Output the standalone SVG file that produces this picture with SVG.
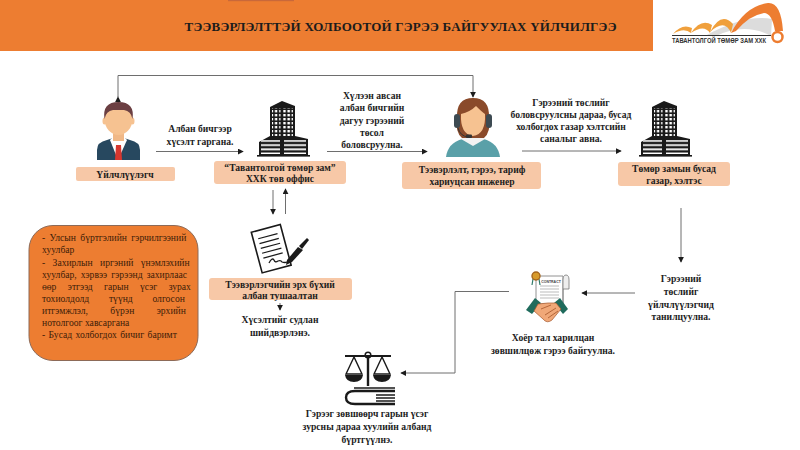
<svg xmlns="http://www.w3.org/2000/svg" width="800" height="450" viewBox="0 0 800 450">
<style>
text{font-family:"Liberation Serif","Times New Roman",serif;font-weight:700;fill:#1c1c1c;font-size:9.6px;text-anchor:middle}
.lbl{fill:#f7c8a7}
.c{fill:none;stroke:#6e6e6e;stroke-width:1}
.bt{text-anchor:start;font-weight:400;fill:#3b1c08;font-size:9.6px}
</style>
<defs>
<marker id="a" viewBox="0 0 8 8" refX="7" refY="4" markerWidth="6" markerHeight="6" markerUnits="userSpaceOnUse" orient="auto"><path d="M0 0L8 4L0 8Z" fill="#1c1c1c"/></marker>
<pattern id="win" width="4.2" height="4" patternUnits="userSpaceOnUse"><rect width="4.2" height="4" fill="#1a1a1a"/><rect x="1.1" y="1" width="2.4" height="2.4" fill="#fff"/></pattern>
<pattern id="str" width="4" height="4.2" patternUnits="userSpaceOnUse"><rect width="4" height="4.2" fill="#1a1a1a"/><rect y="1.2" width="4" height="1.8" fill="#fff"/></pattern>
<g id="bld">
<path d="M13 6L25 0L38 5V36H13Z" fill="#1a1a1a"/>
<rect x="15" y="7" width="8.5" height="29" fill="url(#win)"/>
<rect x="26" y="7" width="10" height="29" fill="url(#win)"/>
<path d="M2 41L13 35H25V54H2Z" fill="#1a1a1a"/>
<path d="M38 35L51 38V54H25V35Z" fill="#1a1a1a"/>
<rect x="4" y="39" width="19" height="14" fill="url(#str)"/>
<rect x="27" y="39" width="22" height="14" fill="url(#str)"/>
<rect x="0" y="54" width="53" height="1.6" fill="#1a1a1a"/>
</g>
</defs>
<rect width="800" height="450" fill="#fff"/>

<g id="header">
<rect x="0" y="0" width="653" height="51" fill="#ed7d31"/>
<rect x="228" y="0" width="66" height="1.2" fill="#c9683a"/>
<text x="400.500" y="31" textLength="432" lengthAdjust="spacing" style="font-size:13px">ТЭЭВЭРЛЭЛТТЭЙ ХОЛБООТОЙ ГЭРЭЭ БАЙГУУЛАХ ҮЙЛЧИЛГЭЭ</text>
</g>

<g id="logo">
<path d="M705 36Q745 14 772 19L771 36Q745 22 716 36Z" fill="#dcdcdc"/>
<path d="M673 34Q682 23 692 28L691 33Q684 27 673 34Z" fill="#f0a03c"/>
<path d="M691 33Q701 18 712 25L710 33Q704 24 691 33Z" fill="#f0a03c"/>
<path d="M710 32Q721 11 733 24L731 33Q725 18 710 32Z" fill="#f0a03c"/>
<path d="M731 33Q745 6 768 3Q781 2 783 31L775 31Q772 13 764 13Q750 15 736 31Z" fill="#ed7d31"/>
<circle cx="777.500" cy="37" r="5" fill="#fff" stroke="#ed7d31" stroke-width="2.500"/>
<rect x="672" y="35" width="99" height="1" fill="#333"/>
<text x="719" y="43" textLength="94" lengthAdjust="spacingAndGlyphs" style="font-family:'Liberation Sans',Arial,sans-serif;font-size:7.500px;fill:#333">ТАВАНТОЛГОЙ ТӨМӨР ЗАМ ХХК</text>
</g>

<g id="connectors">
<path class="c" d="M118 97V75.500H473V97" marker-start="url(#a)" marker-end="url(#a)"/>
<path class="c" d="M156 151.500H243" marker-end="url(#a)"/>
<path class="c" d="M327 151.500H427" marker-end="url(#a)"/>
<path class="c" d="M522 151H621" marker-end="url(#a)"/>
<path class="c" d="M273 190V214" marker-end="url(#a)"/>
<path class="c" d="M285.500 214V189" marker-end="url(#a)"/>
<path class="c" d="M280 303V310" marker-end="url(#a)"/>
<path class="c" d="M681 208V262" marker-end="url(#a)"/>
<path class="c" d="M635 293H582" marker-end="url(#a)"/>
<path class="c" d="M509 291.500H455V373H401" marker-end="url(#a)"/>
</g>

<g id="customer">
<path d="M97 160V150Q97 142 107 140L113 138H124L130 140Q140 142 140 150V160Z" fill="#27485f"/>
<path d="M110 140L118 160L127 140L123 136H114Z" fill="#fff"/>
<path d="M116 145H121L122 160H115Z" fill="#d7372f"/>
<rect x="113" y="128" width="11" height="13" fill="#f0b887"/>
<ellipse cx="104.500" cy="121" rx="2" ry="3.500" fill="#f6c291"/>
<ellipse cx="132.500" cy="121" rx="2" ry="3.500" fill="#f6c291"/>
<ellipse cx="118.500" cy="119" rx="14" ry="16" fill="#f6c291"/>
<path d="M104.500 119Q102 102 118.500 102Q135 102 132.500 119Q131 111 124 110H113Q106 111 104.500 119Z" fill="#6b3f42"/>
<rect class="lbl" x="76" y="167" width="99" height="14" rx="2"/>
<text x="125" y="178">Үйлчлүүлэгч</text>
</g>
<text x="200" y="132">Албан бичгээр</text>
<text x="200" y="145">хүсэлт гаргана.</text>

<g id="head-office">
<use href="#bld" x="257" y="101"/>
<rect class="lbl" x="214" y="161" width="132" height="23" rx="3"/>
<text x="280" y="170.500">“Тавантолгой төмөр зам”</text>
<text x="280" y="182">ХХК төв оффис</text>
</g>
<text x="372" y="99">Хүлээн авсан</text>
<text x="372" y="111">албан бичгийн</text>
<text x="372" y="124">дагуу гэрээний</text>
<text x="372" y="136">төсол</text>
<text x="372" y="148">боловсруулна.</text>

<g id="engineer">
<path d="M446 157Q448 143 462 139H484Q498 143 500 157Z" fill="#5aa0a8"/>
<path d="M461 139L473 146L485 139L479 135H467Z" fill="#f2f2f2"/>
<path d="M457 118Q456 98 473 98Q490 98 489 118Q491 132 484 138H462Q455 132 457 118Z" fill="#8a4a2a"/>
<path d="M461 114Q470 112 476 106Q482 112 485 114Q486 134 473 136Q460 134 461 114Z" fill="#f6c291"/>
<rect x="454" y="114" width="6" height="14" rx="3" fill="#3d4a52"/>
<rect x="486" y="114" width="6" height="14" rx="3" fill="#3d4a52"/>
<path d="M458 128Q460 136 468 137" fill="none" stroke="#333" stroke-width="1"/>
<rect x="466" y="134.500" width="6" height="3.500" rx="1" fill="#333"/>
<rect class="lbl" x="402" y="162" width="139" height="27" rx="3"/>
<text x="472" y="173">Тээвэрлэлт, гэрээ, тариф</text>
<text x="472" y="185">хариуцсан инженер</text>
</g>
<text x="571" y="106">Гэрээний төслийг</text>
<text x="571" y="118">боловсруулсны дараа, бусад</text>
<text x="571" y="130">холбогдох газар хэлтсийн</text>
<text x="571" y="142">саналыг авна.</text>

<g id="other-departments">
<use href="#bld" x="639" y="101"/>
<rect class="lbl" x="618" y="162" width="112" height="24" rx="3"/>
<text x="674" y="172">Төмөр замын бусад</text>
<text x="674" y="184">газар, хэлтэс</text>
</g>

<g id="documents">
<rect x="29" y="225.500" width="169" height="135" rx="24" fill="#ed7d31" stroke="#8c6a58" stroke-width="1"/>
<text class="bt" x="42" y="241" word-spacing="2">- Улсын бүртгэлийн гэрчилгээний</text>
<text class="bt" x="42" y="253">хуулбар</text>
<text class="bt" x="42" y="266" word-spacing="5">- Захирлын иргэний үнэмлэхийн</text>
<text class="bt" x="42" y="278" word-spacing="1.700">хуулбар, хэрвээ гэрээнд захирлаас</text>
<text class="bt" x="42" y="290" word-spacing="9">өөр этгээд гарын үсэг зурах</text>
<text class="bt" x="42" y="302" word-spacing="17.300">тохиолдолд түүнд олгосон</text>
<text class="bt" x="42" y="314" word-spacing="20">итгэмжлэл, бүрэн эрхийн</text>
<text class="bt" x="42" y="326">нотолгоог хавсаргана</text>
<text class="bt" x="42" y="338" word-spacing="1">- Бусад холбогдох бичиг баримт</text>
</g>

<g id="authority">
<g transform="rotate(-15 270 248)">
<rect x="256" y="228" width="30" height="42" fill="#fff" stroke="#1a1a1a" stroke-width="1.600"/>
<path d="M261 236H281M261 241H281M261 246H281M261 251H281M261 256H281" stroke="#1a1a1a" stroke-width="1.200"/>
</g>
<path d="M269 263q3 -6 5 -3q1 3 4 1q3 -1 4 1q3 1 5 0" fill="none" stroke="#1a1a1a" stroke-width="1.300"/>
<path d="M287 260L298 247L303 250L292 262L286 265Z" fill="#1a1a1a"/>
<path d="M299 246L307 238L309 240L302 249Z" fill="#1a1a1a"/>
<rect class="lbl" x="209" y="278" width="143" height="22" rx="3"/>
<text x="280" y="287.500">Тээвэрлэгчийн эрх бүхий</text>
<text x="280" y="298.500">албан тушаалтан</text>
</g>
<text x="280" y="323">Хүсэлтийг судлан</text>
<text x="280" y="336">шийдвэрлэнэ.</text>

<text x="681" y="282">Гэрээний</text>
<text x="681" y="295">төслийг</text>
<text x="681" y="308">үйлчлүүлэгчид</text>
<text x="681" y="320">танилцуулна.</text>

<g id="contract">
<path d="M536 276H563V304H536Z" fill="#fff" stroke="#777" stroke-width=".8"/>
<path d="M563 304V280Q563 275 566 275Q569 275 569 280V289H563" fill="#eee" stroke="#777" stroke-width=".8"/>
<text x="551" y="282.500" style="font-family:'Liberation Sans',Arial,sans-serif;font-size:3.500px;fill:#444">CONTRACT</text>
<path d="M540 286H559M540 289H559M540 292H559M540 295H559M540 298H559" stroke="#aaa" stroke-width=".8"/>
<path d="M533 279L532 285M539 279L540 285" stroke="#2f7a68" stroke-width="1.200"/>
<circle cx="536" cy="276" r="4" fill="#d79b2c" stroke="#a5651e" stroke-width="1.400"/>
<path d="M526 310L535 298L541 303L532 314Z" fill="#1f6b5c"/>
<path d="M568 309L560 298L554 303L563 314Z" fill="#1f6b5c"/>
<path d="M538 304L548 303L556 303L561 309L552 320Q547 324 543 319L534 311Z" fill="#f0a878" stroke="#a5562a" stroke-width=".7"/>
<path d="M541 309L551 305M545 315L556 308M548 318L558 311" stroke="#a5562a" stroke-width=".8"/>
</g>
<text x="553" y="341">Хоёр тал харилцан</text>
<text x="553" y="354">зөвшилцөж гэрээ байгуулна.</text>

<g id="registry">
<circle cx="368" cy="355" r="2.800" fill="#fff" stroke="#1a1a1a" stroke-width="1.500"/>
<path d="M345 356H391" stroke="#1a1a1a" stroke-width="1.800"/>
<path d="M368 358V386" stroke="#1a1a1a" stroke-width="2.400"/>
<path d="M354 357L346 374H362ZM382 357L374 374H390Z" fill="none" stroke="#1a1a1a" stroke-width="1.400"/>
<path d="M345 375H363Q362 382 354 382Q346 382 345 375ZM373 375H391Q390 382 382 382Q374 382 373 375Z" fill="#1a1a1a"/>
<path d="M395 391H355Q346 391 346 397.500Q346 404 355 404H395" fill="none" stroke="#1a1a1a" stroke-width="2.400"/>
<path d="M354 388H395M376 395H395M376 398H395M376 401H395" stroke="#1a1a1a" stroke-width="1.400"/>
</g>
<text x="367" y="417">Гэрээг зөвшөөрч гарын үсэг</text>
<text x="367" y="430">зурсны дараа хуулийн албанд</text>
<text x="367" y="443">бүртгүүлнэ.</text>
</svg>
